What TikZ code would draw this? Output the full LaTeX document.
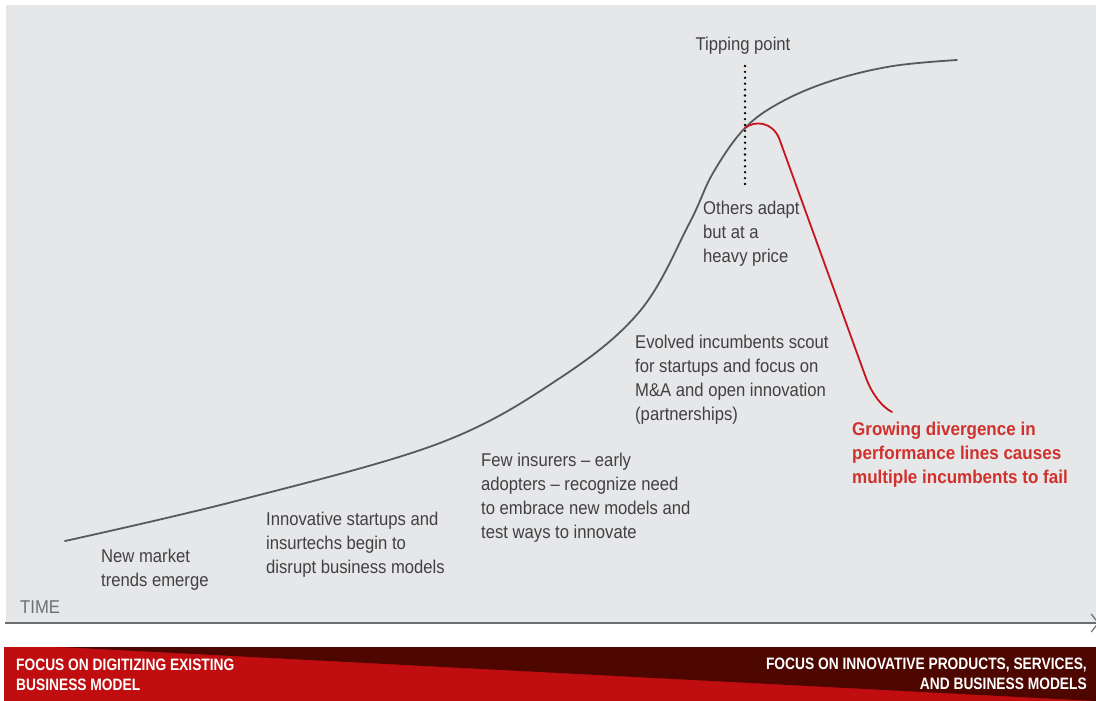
\documentclass[tikz,border=0pt]{standalone}
\usepackage{fontspec}
\setmainfont{Liberation Sans}[FakeStretch=0.9]
\newfontfamily\redfont{Liberation Sans}[FakeStretch=0.92]
\newfontfamily\bannerfont{Liberation Sans}[FakeStretch=0.835]
\usetikzlibrary{arrows.meta}
\definecolor{bggray}{HTML}{E6E7E8}
\definecolor{curvegray}{HTML}{58595B}
\definecolor{txtgray}{HTML}{414042}
\definecolor{axisgray}{HTML}{6D6E71}
\definecolor{curvered}{HTML}{C4161C}
\definecolor{txtred}{HTML}{D0312D}
\definecolor{bannerred}{HTML}{C00D0F}
\definecolor{bannerdark}{HTML}{4E0700}
\tikzset{
  label/.style={font=\fontsize{18.5}{24}\selectfont, text=txtgray, align=left, inner sep=0pt, anchor=base west},
  redlabel/.style={label, text=txtred, font=\redfont\bfseries\fontsize{18.5}{24}\selectfont},
  bannertext/.style={font=\bannerfont\bfseries\fontsize{16.5}{20}\selectfont, text=white, inner sep=0pt},
  scurve/.style={draw=curvegray, line width=1.8pt, line cap=round, line join=round},
  redcurve/.style={draw=curvered, line width=1.8pt, line cap=round, line join=round},
  dotline/.style={draw=black, line width=2.6pt, dash pattern=on 0pt off 5.9pt, line cap=round},
  axisline/.style={draw=axisgray, line width=1.4pt, -{Straight Barb[length=7pt,width=18pt,line width=1.2pt]}}
}
\begin{document}
\begin{tikzpicture}[x=1pt,y=-1pt]
\useasboundingbox (0,0) rectangle (1096,701);
% background panel
\fill[bggray] (6,5) rectangle (1096,622);
% banner
\fill[bannerred] (4,647) rectangle (1096,701);
\fill[bannerdark] (60,647) -- (1096,647) -- (1096,701) -- cycle;
% axis
\coordinate (axisL) at (5,623);
\coordinate (axisR) at (1099,623);
\draw[axisline] (axisL) -- (axisR);
% S-curve
\coordinate (tip) at (745,128);
\draw[scurve] plot[smooth, tension=0.6] coordinates {(65,541) (240,500) (440,443) (560,378) (640,311) (689,224) (713,173) (745,128) (783,101) (834,80) (893,66) (957,60)};
% red divergence curve
\coordinate (redend) at (892,412);
\draw[redcurve] (tip) .. controls (755,120) and (772,122) .. (779,138) -- (866,378) .. controls (872,394) and (882,407) .. (redend);
% tipping point dotted line
\coordinate (dotTop) at (745,66);
\coordinate (dotBot) at (745,184);
\draw[dotline] (dotTop) -- (dotBot);
% labels (base anchor = baseline of the last line)
\node[label, anchor=base] (tp) at (743,51) {Tipping point};
\node[label] (others) at (703,262) {Others adapt\\but at a\\heavy price};
\node[label] (evolved) at (635,420) {Evolved incumbents scout\\for startups and focus on\\M\&A and open innovation\\(partnerships)};
\node[label] (few) at (481,538) {Few insurers -- early\\adopters -- recognize need\\to embrace new models and\\test ways to innovate};
\node[label] (innov) at (266,573) {Innovative startups and\\insurtechs begin to\\disrupt business models};
\node[label] (newm) at (101,586) {New market\\trends emerge};
\node[label, text=axisgray] (time) at (20,613) {TIME};
\node[redlabel] (grow) at (852,483) {Growing divergence in\\performance lines causes\\multiple incumbents to fail};
\node[bannertext, anchor=base west, align=left] (bl) at (16,690) {FOCUS ON DIGITIZING EXISTING\\BUSINESS MODEL};
\node[bannertext, anchor=base east, align=right] (br) at (1087,689) {FOCUS ON INNOVATIVE PRODUCTS, SERVICES,\\AND BUSINESS MODELS};
\end{tikzpicture}
\end{document}
